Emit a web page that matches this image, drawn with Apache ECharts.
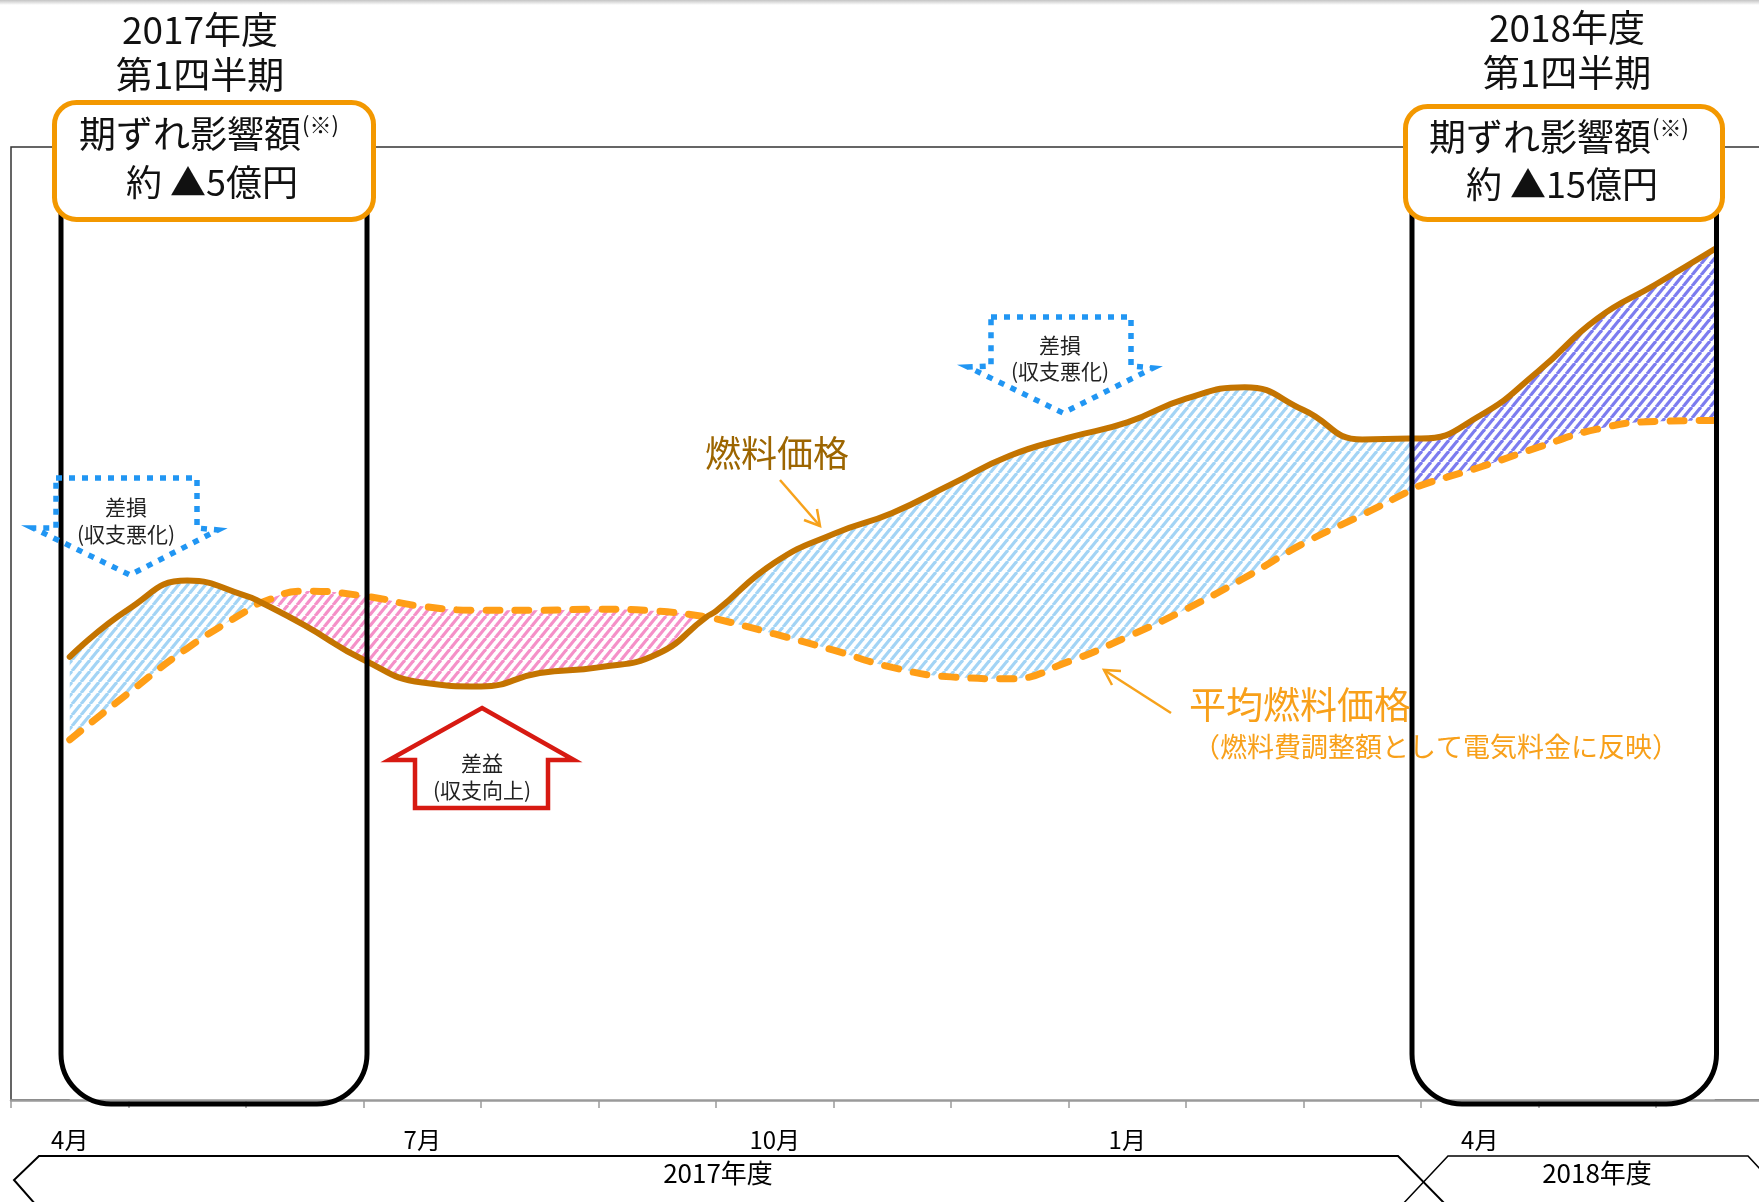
<!DOCTYPE html>
<html><head><meta charset="utf-8">
<script src="https://cdn.jsdelivr.net/npm/echarts@6/dist/echarts.min.js"></script>
<style>html,body{margin:0;padding:0;background:#fff}#chart{width:1759px;height:1202px}</style>
</head><body><div id="chart"></div>
<script>
// ---- data ----
const monthLabels = ['4月','','','7月','','','10月','','','1月','','','4月','',''];
const monthPos = [0,0.5,1,1.5,1.63,2,2.5,3,3.5,4,4.5,5,5.42,5.5,6,6.5,7,7.5,8,8.5,9,9.5,10,10.5,11,11.4,11.5,12,12.5,13,13.5,14];
const fuelPrice = [46.5,51.5,54.5,52.9,52.2,49.8,46.2,43.8,43.4,44.8,45.4,46.8,50.7,51.3,56.4,59.4,61.6,64.6,67.6,69.5,71.1,73.6,74.8,72.4,69.3,69.4,69.4,71.8,76.5,82.0,85.6,89.3];
const avgFuelPrice = [37.8,42.7,47.4,51.3,52.2,53.4,52.9,51.8,51.4,51.4,51.5,51.3,50.7,50.5,48.9,47.2,45.4,44.4,44.2,46.0,48.6,51.5,54.8,58.4,61.4,63.9,64.5,66.4,68.5,70.4,71.2,71.3];
const fiscalYears = ['2017年度','2018年度'];
const lossRanges = [[0,1.63],[5.42,11.4]];   // fuel > average (差損)
const gainRange = [1.63,5.42];               // fuel < average (差益)
const nextYearRange = [11.4,14];             // 2018年度

// ---- helpers ----
function hatch(color){
  const w=9,h=11,c=document.createElement('canvas');c.width=w;c.height=h;
  const g=c.getContext('2d');g.strokeStyle=color;g.lineWidth=3.2;
  for(let k=-1;k<=1;k++){g.beginPath();g.moveTo(k*w,h);g.lineTo(k*w+w,0);g.stroke();}
  return {image:c,repeat:'repeat'};
}
function idx(r){return monthPos.map((m,i)=>i).filter(i=>monthPos[i]>=r[0]-1e-9&&monthPos[i]<=r[1]+1e-9);}
function hatchArea(r,fill){
  const ids=idx(r);
  const up=ids.map(i=>[monthPos[i],Math.max(fuelPrice[i],avgFuelPrice[i])]);
  const lowMin=Math.min(...ids.map(i=>Math.min(fuelPrice[i],avgFuelPrice[i])));
  return {type:'line',xAxisIndex:1,data:up,smooth:0.5,symbol:'none',silent:true,z:1,
    lineStyle:{opacity:0,width:0},areaStyle:{color:fill,opacity:1,origin:lowMin-0.6}};
}

const BLUE=hatch('#A3D4F5'),PINK=hatch('#F590C8'),PURPLE=hatch('#7C7CEF');
const series=[];
lossRanges.forEach(r=>series.push(hatchArea(r,BLUE)));
series.push(hatchArea(gainRange,PINK));
series.push(hatchArea(nextYearRange,PURPLE));
series.push({type:'line',xAxisIndex:1,data:monthPos.map((m,i)=>[m,Math.min(fuelPrice[i],avgFuelPrice[i])]),smooth:0.5,symbol:'none',silent:true,z:2,
  lineStyle:{opacity:0,width:0},areaStyle:{color:'#ffffff',opacity:1,origin:'start'}});
series.push({type:'line',name:'平均燃料価格',xAxisIndex:1,data:monthPos.map((m,i)=>[m,avgFuelPrice[i]]),smooth:0.5,symbol:'none',z:4,
  lineStyle:{color:'#FF9E16',width:7,type:[14,15],cap:'round'}});
series.push({type:'line',name:'燃料価格',xAxisIndex:1,data:monthPos.map((m,i)=>[m,fuelPrice[i]]),smooth:0.5,symbol:'none',z:5,
  lineStyle:{color:'#C47400',width:6,cap:'round'}});

const F='"Noto Sans CJK JP"';
function T(text,x,y,size,color,align,z){return {type:'text',z:z||80,style:{text,x,y,font:size+'px '+F,fill:color||'#111',
  textAlign:align||'center',align:align||'center',textVerticalAlign:'middle',verticalAlign:'middle'}};}
function PL(points,stroke,lw,dash,z){return {type:'polyline',z:z||70,shape:{points},style:{fill:'none',stroke,lineWidth:lw,lineDash:dash||null}};}
function PG(points,stroke,lw,dash){return {type:'polygon',z:70,shape:{points},style:{fill:'none',stroke,lineWidth:lw,lineDash:dash||null,lineJoin:'miter'}};}

const elements=[
  {type:'rect',z:90,shape:{x:0,y:0,width:1759,height:5},style:{fill:{type:'linear',x:0,y:0,x2:0,y2:1,colorStops:[{offset:0,color:'#c4c4c4'},{offset:1,color:'#ffffff'}]}}},
  {type:'rect',z:50,shape:{x:61,y:160,width:306,height:944,r:[10,10,50,50]},style:{fill:'none',stroke:'#000',lineWidth:5}},
  {type:'rect',z:50,shape:{x:1412,y:160,width:304.5,height:944,r:[10,10,50,50]},style:{fill:'none',stroke:'#000',lineWidth:5}},
  {type:'rect',z:60,shape:{x:54.5,y:102.5,width:319,height:117,r:22},style:{fill:'#fff',stroke:'#F39800',lineWidth:5}},
  {type:'rect',z:60,shape:{x:1405.5,y:106.5,width:317,height:113,r:22},style:{fill:'#fff',stroke:'#F39800',lineWidth:5}},
  T('2017年度',200,30,37),T('第1四半期',200,75,37),
  T('2018年度',1567,28,37),T('第1四半期',1567,73,37),
  T('期ずれ影響額',190,134,37),T('(※)',302,125,22,'#111','left'),T('約 ▲5億円',212,182,36),
  T('期ずれ影響額',1540,137,37),T('(※)',1652,128,22,'#111','left'),T('約 ▲15億円',1562,184,36),
  PG([[56,478],[197,478],[197,528],[218,530],[130,575],[33,528],[56,528]],'#2196F3',5.5,[6,7]),
  T('差損',126,507,21,'#222'),T('(収支悪化)',126,534,21,'#222'),
  PG([[991,317],[1131,317],[1131,366],[1153,368],[1063,413],[968,367],[991,366]],'#2196F3',5.5,[6,7]),
  T('差損',1060,345,21,'#222'),T('(収支悪化)',1060,371,21,'#222'),
  PG([[482,708],[574,760],[548,760],[548,808],[415,808],[415,760],[389,760]],'#D71A12',4.5),
  T('差益',482,763,21,'#222'),T('(収支向上)',482,790,21,'#222'),
  T('燃料価格',777,453,36,'#9C6500'),
  PL([[780,480],[820,526]],'#F7A21B',2.5),PL([[804,520],[820,526],[817,509]],'#F7A21B',2.5),
  T('平均燃料価格',1300,705,37,'#F8A01A'),
  T('（燃料費調整額として電気料金に反映）',1436,747,27,'#F8A01A'),
  PL([[1171,713],[1104,670]],'#F7A21B',2.5),PL([[1121,671],[1104,670],[1112,685]],'#F7A21B',2.5),
  PL([[36,1205],[14,1180],[39,1156],[1398,1156],[1447,1206]],'#000',2),
  PL([[1401,1206],[1448,1156],[1748,1156],[1772,1182]],'#000',1.5),
  T(fiscalYears[0],718,1173,26,'#000'),T(fiscalYears[1],1597,1173,26,'#000')
];

const chart=echarts.init(document.getElementById('chart'),null,{renderer:'canvas'});
chart.setOption({
  backgroundColor:'#fff',animation:false,
  grid:{left:11,top:147,width:1762.5,bottom:102,show:true,borderColor:'#333',borderWidth:1.5,containLabel:false,outerBoundsMode:'none'},
  xAxis:[
    {type:'category',data:monthLabels,boundaryGap:true,z:10,
     axisLine:{lineStyle:{color:'#9a9a9a',width:2.5}},
     axisTick:{show:true,interval:0,length:8,lineStyle:{color:'#9a9a9a',width:1.5}},
     axisLabel:{interval:0,margin:28,fontSize:24,color:'#000',fontFamily:F}},
    {type:'value',min:-0.5,max:14.5,show:false}
  ],
  yAxis:{type:'value',min:0,max:100,show:false},
  series,
  graphic:{elements}
});
</script></body></html>
